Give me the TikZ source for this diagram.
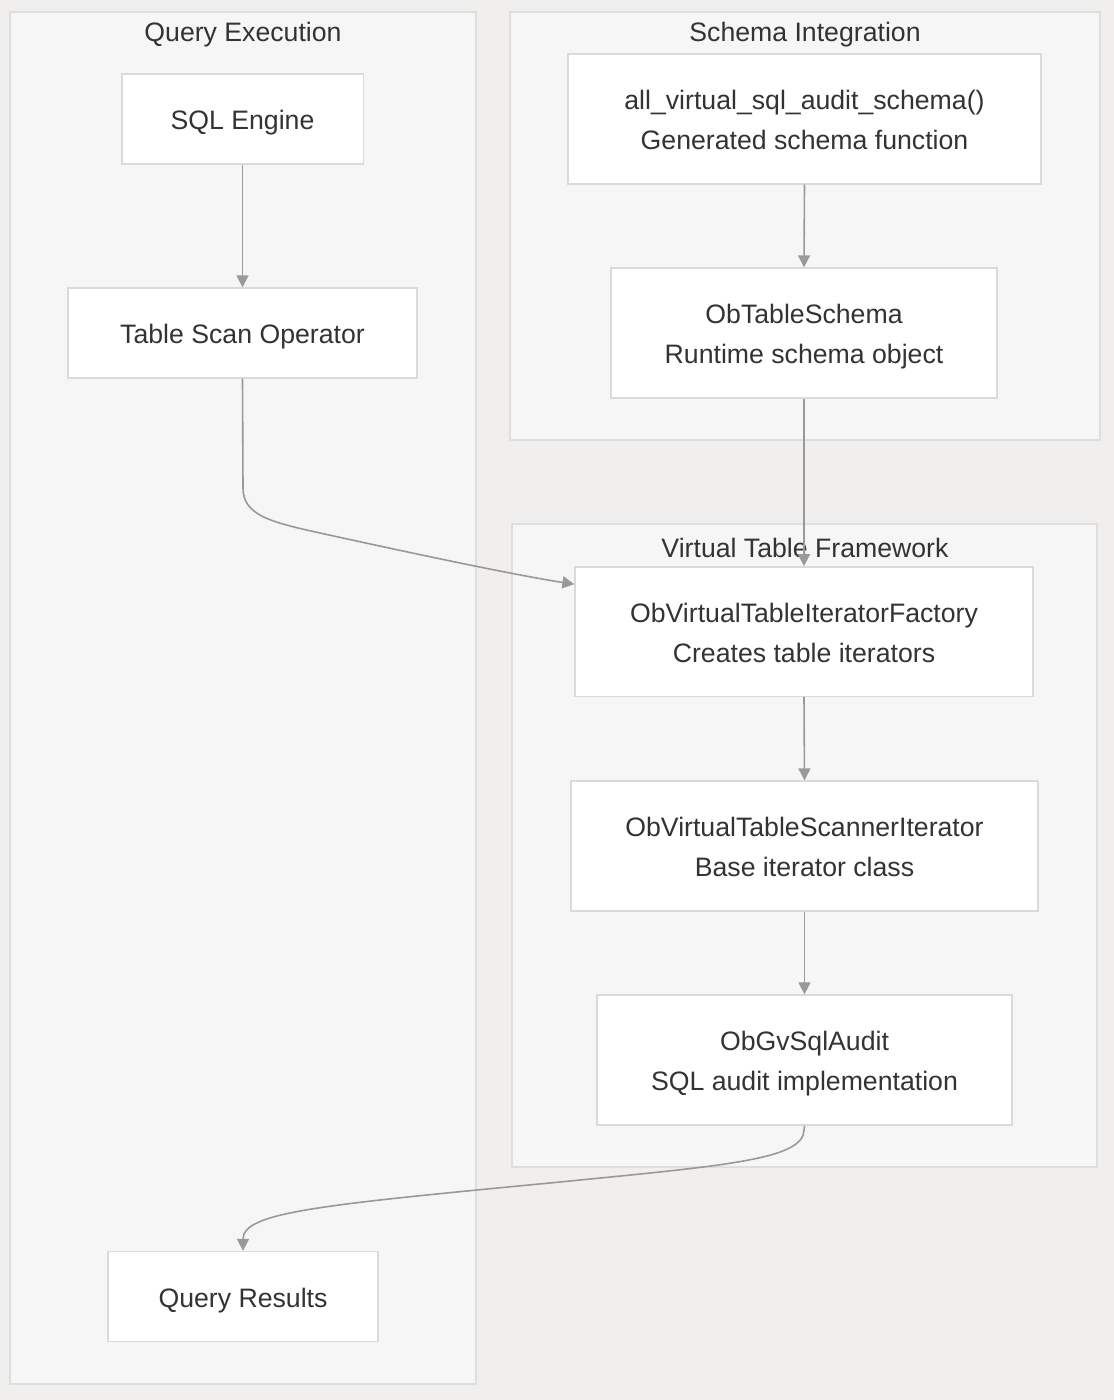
\documentclass[tikz,border=0pt]{standalone}
\usepackage{fontspec}
\setmainfont{Liberation Sans}
\usetikzlibrary{arrows.meta,calc}
\definecolor{bgc}{HTML}{F0EFEE}
\definecolor{clfill}{HTML}{F6F6F6}
\definecolor{clline}{HTML}{DEDEDE}
\definecolor{ndline}{HTML}{DADADA}
\definecolor{edgec}{HTML}{999999}
\definecolor{txtc}{HTML}{333333}
\newcommand\lbl[1]{\raisebox{-2pt}[\height][\depth]{\begin{tabular}{@{}c@{}}#1\end{tabular}}}
\tikzset{
  cluster/.style={draw=clline, fill=clfill, line width=1pt},
  cltitle/.style={text=txtc, font=\fontsize{20pt}{24pt}\selectfont, inner sep=0pt},
  box/.style={draw=ndline, fill=white, line width=1pt, text=txtc, align=center,
    font=\fontsize{20pt}{30pt}\selectfont, inner sep=0pt},
  edge/.style={draw=edgec, line width=1.2pt, -{Triangle[length=9pt,width=9pt]}}
}
\begin{document}
\begin{tikzpicture}[x=0.75pt,y=-0.75pt]
\fill[bgc] (0,0) rectangle (1114,1400);
\useasboundingbox (0,0) rectangle (1114,1400);
% clusters
\draw[cluster] (10,12) rectangle (476,1384);
\draw[cluster] (510,12) rectangle (1100,440);
\draw[cluster] (512,524) rectangle (1097,1167);
\node[cltitle] (tqe) at (243,35) {Query Execution};
\node[cltitle] (tsi) at (805,35) {Schema Integration};
\node[cltitle] (tvt) at (805,548) {Virtual Table Framework};
% nodes
\node[box, minimum width=181pt, minimum height=67.5pt] (sql) at (242.5,119) {\lbl{SQL Engine}};
\node[box, minimum width=261.75pt, minimum height=67.5pt] (ts) at (242.5,333) {\lbl{Table Scan Operator}};
\node[box, minimum width=202.5pt, minimum height=67.5pt] (qr) at (243,1296.5) {\lbl{Query Results}};
\node[box, minimum width=354.75pt, minimum height=97.5pt] (avs) at (804.5,119) {\lbl{all\_virtual\_sql\_audit\_schema()\\Generated schema function}};
\node[box, minimum width=289.5pt, minimum height=97.5pt] (ots) at (804,333) {\lbl{ObTableSchema\\Runtime schema object}};
\node[box, minimum width=343.5pt, minimum height=97pt] (fac) at (804,631.5) {\lbl{ObVirtualTableIteratorFactory\\Creates table iterators}};
\node[box, minimum width=350.25pt, minimum height=97.5pt] (scn) at (804.5,846) {\lbl{ObVirtualTableScannerIterator\\Base iterator class}};
\node[box, minimum width=311.25pt, minimum height=97.5pt] (gv) at (804.5,1060) {\lbl{ObGvSqlAudit\\SQL audit implementation}};
% edge anchor helpers
\coordinate (facin) at ([yshift=-13.5pt]fac.north west);
% edges
\draw[edge] (sql.south) -- (ts.north);
\draw[edge] (avs.south) -- (ots.north);
\draw[edge] (ots.south) -- (fac.north);
\draw[edge] (fac.south) -- (scn.north);
\draw[edge] (scn.south) -- (gv.north);
\draw[edge] (ts.south) -- (243,488) .. controls (243,515) and (270,522) .. (320,533) .. controls (420,555) and (520,576) .. (facin);
\draw[edge] (gv.south) -- (804,1130) .. controls (804,1160) and (720,1166) .. (560,1182) .. controls (320,1205) and (243,1212) .. (qr.north);
\end{tikzpicture}
\end{document}
